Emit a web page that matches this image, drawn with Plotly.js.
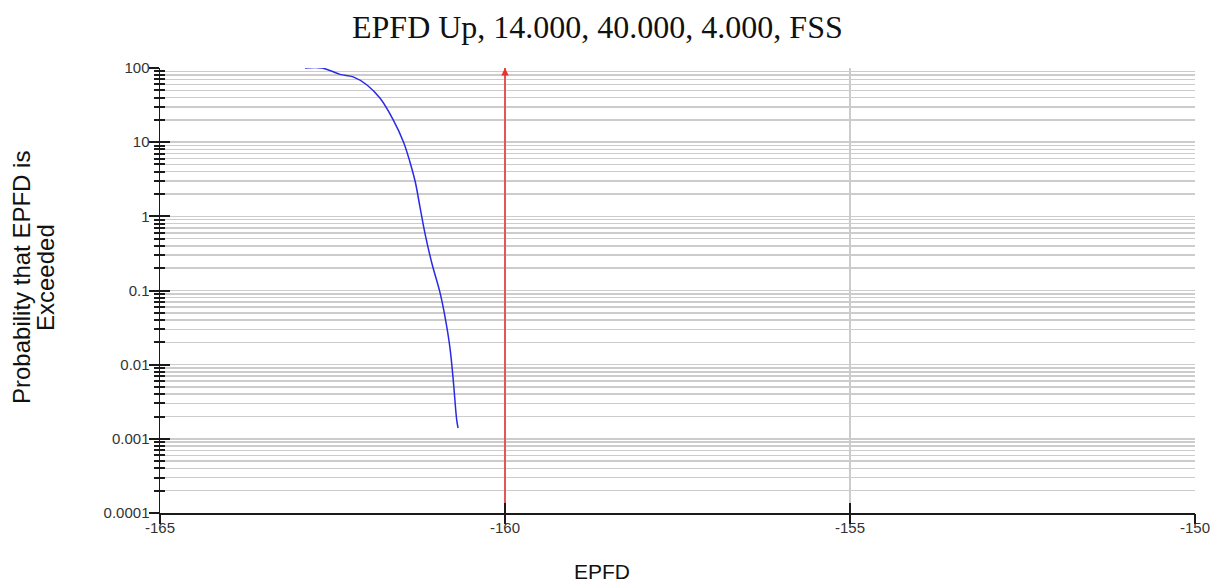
<!DOCTYPE html>
<html>
<head>
<meta charset="utf-8">
<script src="https://cdn.plot.ly/plotly-3.0.1.min.js"></script>
<style>
html,body{margin:0;padding:0;background:#fff;}
#chart{width:1214px;height:584px;}
</style>
</head>
<body>
<div id="chart"></div>
<script>
// EPFD curve (dB) and exceedance probability (%)
const epfd = [-162.90, -162.65, -162.39, -162.20, -162.00, -161.81, -161.62, -161.47, -161.38, -161.30, -161.23, -161.16, -161.06, -160.94, -160.87, -160.80, -160.75, -160.70, -160.68];
const prob = [100, 100, 82, 76, 59, 39, 20, 10, 5.5, 2.9, 1.3, 0.59, 0.233, 0.092, 0.0444, 0.0175, 0.0062, 0.0018, 0.0014];
// limit line
const limitX = [-160, -160];
const limitY = [0.0001, 100];
// axes
const xTicks = [-165, -160, -155, -150];
const xTickText = ['-165', '-160', '-155', '-150'];
const yTicks = [100, 10, 1, 0.1, 0.01, 0.001, 0.0001];
const yTickText = ['100', '10', '1', '0.1', '0.01', '0.001', '0.0001'];
const titleText = 'EPFD Up, 14.000, 40.000, 4.000, FSS';
const xTitle = 'EPFD';
const yTitle1 = 'Probability that EPFD is';
const yTitle2 = 'Exceeded';

const tickFont = {family: 'Liberation Sans, Arial, sans-serif', size: 15, color: '#333'};
const grid = '#cccccc';
const axCol = '#1a1a1a';

const traces = [
  {x: limitX, y: limitY, mode: 'lines', line: {color: '#e8322e', width: 1.5}, hoverinfo: 'skip', showlegend: false},
  {x: epfd, y: prob, mode: 'lines', line: {color: '#2a2ae6', width: 1.5, shape: 'spline'}, showlegend: false},
  // invisible carrier so the overlay tick axes are drawn
  {x: limitX, y: limitY, xaxis: 'x2', yaxis: 'y2', mode: 'lines', line: {width: 0, color: 'rgba(0,0,0,0)'}, hoverinfo: 'skip', showlegend: false}
];

const layout = {
  width: 1214, height: 584,
  margin: {l: 160, r: 19, t: 68, b: 71},
  paper_bgcolor: '#fff', plot_bgcolor: '#fff',
  showlegend: false,
  xaxis: {
    type: 'linear', range: [-165, -150], tickmode: 'array', tickvals: xTicks, ticktext: xTickText,
    showgrid: true, gridcolor: grid, gridwidth: 1.5, zeroline: false,
    showline: true, linecolor: axCol, linewidth: 1.5,
    ticks: 'inside', ticklen: 10, tickwidth: 2, tickcolor: axCol,
    tickfont: tickFont
  },
  xaxis2: {
    overlaying: 'x', anchor: 'y2', range: [-165, -150], tickmode: 'array', tickvals: xTicks,
    showticklabels: false, showgrid: false, zeroline: false, showline: false,
    ticks: 'outside', ticklen: 10, tickwidth: 2, tickcolor: axCol
  },
  yaxis: {
    type: 'log', range: [-4, 2], tickmode: 'array', tickvals: yTicks, ticktext: yTickText,
    showgrid: true, gridcolor: grid, gridwidth: 1.5, zeroline: false,
    showline: true, linecolor: axCol, linewidth: 1.5,
    ticks: 'inside', ticklen: 10, tickwidth: 2, tickcolor: axCol,
    tickfont: tickFont, ticklabelstandoff: 6,
    minor: {dtick: 'D1', ticks: 'inside', ticklen: 5, tickwidth: 2, tickcolor: axCol, showgrid: true, gridcolor: grid, gridwidth: 1.5}
  },
  yaxis2: {
    type: 'log', overlaying: 'y', anchor: 'x2', side: 'left', range: [-4, 2], tickmode: 'array', tickvals: yTicks,
    showticklabels: false, showgrid: false, zeroline: false, showline: false,
    ticks: 'outside', ticklen: 10, tickwidth: 2, tickcolor: axCol,
    minor: {dtick: 'D1', ticks: 'outside', ticklen: 5, tickwidth: 2, tickcolor: axCol, showgrid: false}
  },
  annotations: [
    {text: titleText, xref: 'paper', yref: 'paper', x: (597 - 160) / 1035, y: 1 + (68 - 27) / 445, xanchor: 'center', yanchor: 'middle', showarrow: false,
     font: {family: 'Liberation Serif, Times New Roman, serif', size: 32, color: '#111'}},
    {text: xTitle, xref: 'paper', yref: 'paper', x: (602 - 160) / 1035, y: -(571 - 513) / 445, xanchor: 'center', yanchor: 'middle', showarrow: false,
     font: {family: 'Liberation Sans, Arial, sans-serif', size: 21, color: '#111'}},
    {text: yTitle1, xref: 'paper', yref: 'paper', x: -(160 - 21) / 1035, y: (513 - 278) / 445, xanchor: 'center', yanchor: 'middle', textangle: -90, showarrow: false,
     font: {family: 'Liberation Sans, Arial, sans-serif', size: 24, color: '#111'}},
    {text: yTitle2, xref: 'paper', yref: 'paper', x: -(160 - 45) / 1035, y: (513 - 278) / 445, xanchor: 'center', yanchor: 'middle', textangle: -90, showarrow: false,
     font: {family: 'Liberation Sans, Arial, sans-serif', size: 24, color: '#111'}},
    {x: limitX[1], y: Math.log10(limitY[1]), ax: limitX[1], ay: Math.log10(limitY[1]) - 0.12, xref: 'x', yref: 'y', axref: 'x', ayref: 'y',
     text: '', showarrow: true, arrowhead: 2, arrowsize: 1, arrowwidth: 1.5, arrowcolor: '#e8322e'}
  ]
};

Plotly.newPlot('chart', traces, layout, {displayModeBar: false, staticPlot: true});
</script>
</body>
</html>
